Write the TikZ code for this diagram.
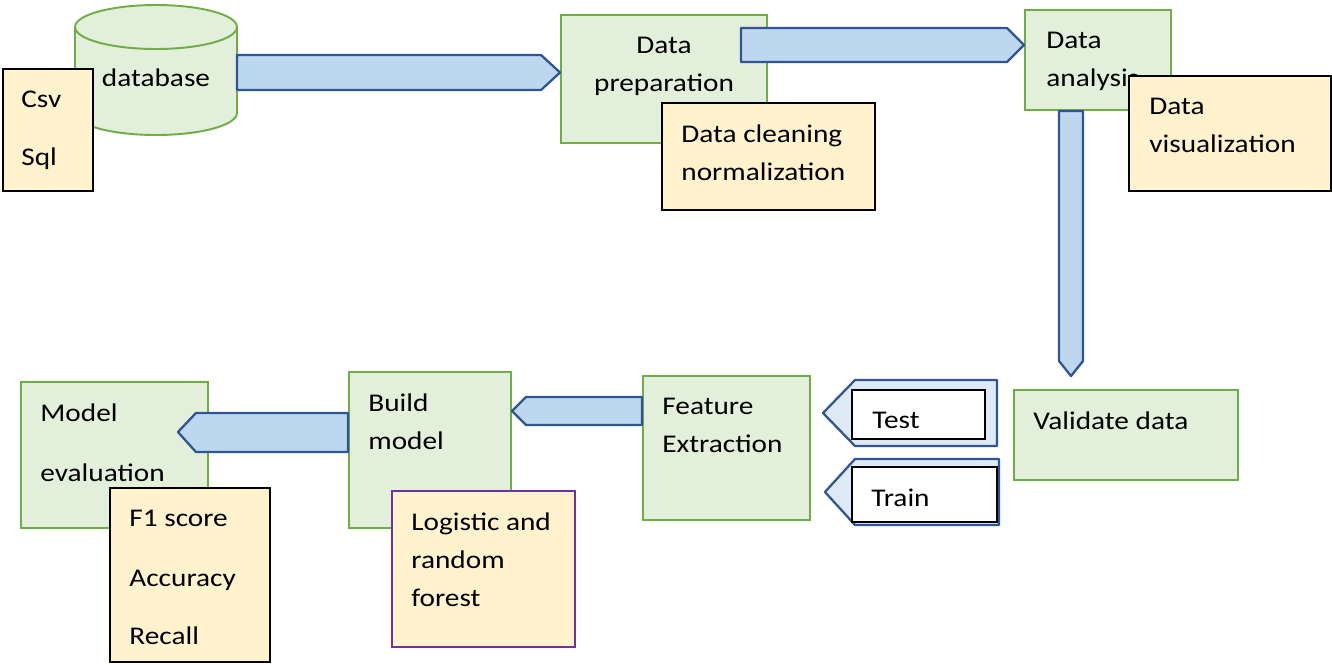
\documentclass[tikz,border=0pt]{standalone}
\usepackage{fontspec}
\setmainfont{Carlito}[FakeStretch=1.15]
\usetikzlibrary{fit,calc}

\definecolor{boxgreen}{HTML}{E2EFDA}
\definecolor{linegreen}{HTML}{70AD47}
\definecolor{noteyellow}{HTML}{FFF2CC}
\definecolor{arrowblue}{HTML}{BDD7EE}
\definecolor{paleblue}{HTML}{DEEBF7}
\definecolor{edgeblue}{HTML}{2F5597}
\definecolor{notepurple}{HTML}{7030A0}

\tikzset{
  stage/.style={draw=linegreen, fill=boxgreen, line width=1.1pt, inner sep=0pt},
  note/.style={draw=black, fill=noteyellow, line width=1.1pt, inner sep=0pt},
  plain/.style={draw=black, fill=white, line width=1.1pt, inner sep=0pt},
  txt/.style={font=\fontsize{14.5}{21.5}\selectfont, align=left, inner sep=0pt},
  lbl/.style={txt, anchor=north west, xshift=0.4cm, yshift=-0.45cm},
  fatarrow/.style={draw=edgeblue, fill=arrowblue, line width=1.3pt, line join=round},
}

\begin{document}
\begin{tikzpicture}[x=0.02cm, y=-0.02cm]
    \useasboundingbox (0,0) rectangle (1332,664);

    % top row
    \fill[boxgreen] (75,27) -- (75,113) arc[start angle=180, end angle=360, x radius=1.62cm, y radius=0.44cm] -- (237,27) -- cycle;
    \draw[linegreen, line width=1.1pt] (75,27) -- (75,113) arc[start angle=180, end angle=360, x radius=1.62cm, y radius=0.44cm] -- (237,27);
    \draw[stage] (156,27) ellipse [x radius=1.62cm, y radius=0.44cm];
    \node[txt] (db) at (156,78) {database};
    \coordinate (db-out) at (237,72.5);
    \node[note, fit={(3,69) (93,191)}, label={[lbl, xshift=-0.02cm]north west:{Csv\\[11.5pt]Sql}}] (src) {};

    \node[stage, fit={(561,15) (767,143)}, label={[txt, anchor=north, align=center, yshift=-0.45cm]north:{Data\\preparation}}] (prep) {};
    \draw[fatarrow] (db-out |- 0,55) -- ($(prep.west |- 0,55)+(-19,0)$) -- (prep.west |- 0,72.5)
        -- ($(prep.west |- 0,90)+(-19,0)$) -- (db-out |- 0,90) -- cycle;
    \node[note, fit={(662,103) (875,210)}, label={[lbl]north west:{Data cleaning\\normalization}}] (clean) {};

    \node[stage, fit={(1025,10) (1171,110)}, label={[lbl, xshift=0.04cm]north west:{Data\\analysis}}] (analysis) {};
    \draw[fatarrow] ($(prep.east |- 0,28)+(-27,0)$) -- ($(analysis.west |- 0,28)+(-17,0)$) -- (analysis.west |- 0,45)
        -- ($(analysis.west |- 0,62)+(-17,0)$) -- ($(prep.east |- 0,62)+(-27,0)$) -- cycle;
    \node[note, fit={(1129,76) (1331,191)}, label={[lbl, xshift=0.02cm]north west:{Data\\visualization}}] (viz) {};

    % right column
    \node[stage, fit={(1014,390) (1238,480)}, label={[lbl]north west:{Validate data}}] (validate) {};
    \draw[fatarrow] (analysis.south -| 1059,0) -- ($(validate.north -| 1059,0)+(0,-28)$) -- ($(validate.north -| 1071,0)+(0,-13)$)
        -- ($(validate.north -| 1083,0)+(0,-28)$) -- (analysis.south -| 1083,0) -- cycle;

    % bottom row
    \node[stage, fit={(643,376) (810,520)}, label={[lbl]north west:{Feature\\Extraction}}] (feature) {};
    \draw[fatarrow, fill=paleblue] (997,380) -- (855,380) -- ($(feature.east |- 0,413)+(12,0)$) -- (855,446) -- (997,446) -- cycle;
    \node[plain, fit={(852,390) (985,439)}, label={[lbl, xshift=0.02cm]north west:{Test}}] (test) {};
    \draw[fatarrow, fill=paleblue] (999,459) -- (855,459) -- ($(feature.east |- 0,492)+(14,0)$) -- (855,525) -- (999,525) -- cycle;
    \node[plain, fit={(852,467) (997,522)}, label={[lbl]north west:{Train}}] (train) {};

    \node[stage, fit={(349,372) (511,528)}, label={[lbl]north west:{Build\\model}}] (build) {};
    \draw[fatarrow] (feature.west |- 0,397) -- ($(build.east |- 0,397)+(14,0)$) -- (build.east |- 0,411)
        -- ($(build.east |- 0,425)+(14,0)$) -- (feature.west |- 0,425) -- cycle;
    \node[note, draw=notepurple, fit={(392,491) (575,647)}, label={[lbl]north west:{Logistic and\\random\\forest}}] (logit) {};

    \node[stage, fit={(21,382) (208,528)}, label={[lbl]north west:{Model\\[12.5pt]evaluation}}] (eval) {};
    \draw[fatarrow] (build.west |- 0,413) -- ($(eval.east |- 0,413)+(-13,0)$) -- ($(eval.east |- 0,432)+(-31,0)$)
        -- ($(eval.east |- 0,452)+(-13,0)$) -- (build.west |- 0,452) -- cycle;
    \node[note, fit={(110,488) (270,662)}, label={[lbl]north west:{F1 score\\[12.5pt]Accuracy\\[12pt]Recall}}] (scores) {};
\end{tikzpicture}
\end{document}
